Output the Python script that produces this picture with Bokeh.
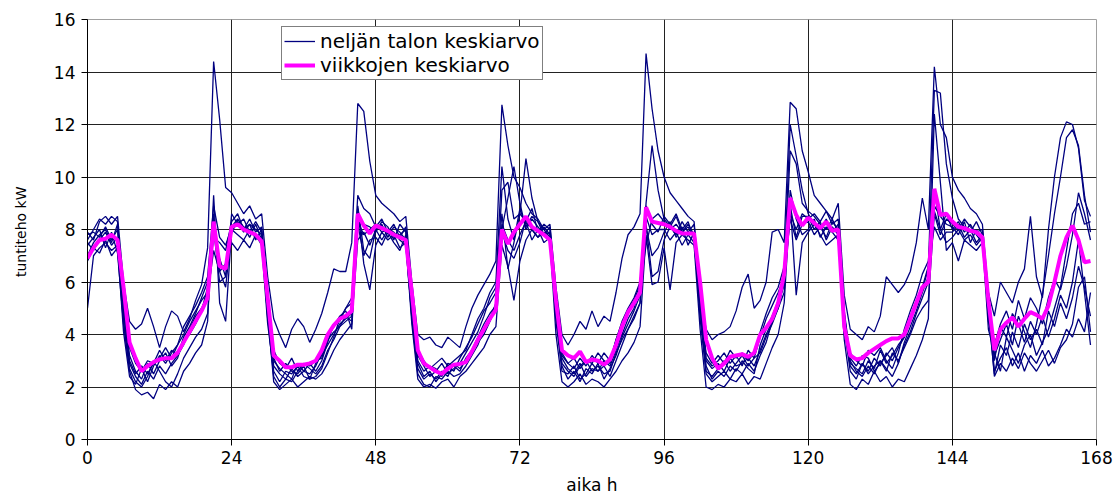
from bokeh.plotting import figure
from bokeh.models import Range1d, FixedTicker, Legend, LegendItem
from bokeh.embed import file_html
from bokeh.resources import INLINE

hours = list(range(168))
x_ticks = [0, 24, 48, 72, 96, 120, 144, 168]
y_ticks = [0, 2, 4, 6, 8, 10, 12, 14, 16]

week1 = [7.9, 7.6, 8.3, 8.5, 8.2, 8.5, 6.0, 4.5, 4.2, 4.4, 5.0, 4.3, 3.5, 4.3, 4.9, 4.7, 4.1, 4.6, 5.3, 5.9, 7.3, 14.4, 12.2, 9.6,
         9.4, 9.0, 8.6, 8.9, 8.4, 8.6, 6.2, 4.6, 4.0, 3.5, 4.2, 4.6, 4.3, 3.7, 4.2, 4.8, 5.6, 6.5, 6.4, 6.4, 7.5, 12.8, 12.5, 10.6,
         9.3, 9.0, 8.8, 8.6, 8.3, 8.5, 6.0, 4.0, 3.8, 3.9, 3.6, 3.5, 3.9, 3.7, 3.5, 4.3, 5.0, 5.5, 5.9, 6.3, 6.8, 12.75, 11.2, 10.0,
         9.6, 9.0, 8.6, 8.4, 8.0, 8.2, 5.8, 4.0, 3.6, 4.0, 4.5, 4.2, 4.9, 4.3, 4.7, 4.5, 5.6, 6.9, 7.8, 8.1, 8.6, 14.7, 12.6, 11.0,
         10.0, 9.4, 9.1, 8.8, 8.5, 8.3, 5.6, 4.2, 3.8, 4.0, 4.1, 4.3, 4.9, 5.8, 6.3, 5.0, 5.3, 6.0, 7.9, 8.0, 7.5, 12.85, 12.6, 11.0,
         10.2, 9.3, 9.0, 8.7, 8.4, 9.0, 5.5, 4.2, 4.0, 3.8, 4.3, 4.1, 4.7, 6.2, 5.9, 5.6, 5.9, 6.4, 7.5, 9.2, 8.0, 14.2, 12.0, 11.5,
         10.0, 9.5, 9.2, 8.8, 8.6, 8.2, 5.6, 4.7, 6.0, 5.6, 5.2, 6.0, 6.5, 8.5, 6.2, 5.4, 8.0, 10.0, 11.5, 12.1, 12.0, 11.1, 9.1, 8.5]
week2 = [5.0, 7.0, 7.3, 7.5, 7.2, 7.4, 4.5, 2.6, 1.9, 1.7, 1.8, 1.55, 2.1, 1.9, 2.2, 2.0, 2.6, 2.9, 3.3, 3.6, 4.5, 9.3, 5.2, 4.5,
         8.0, 7.8, 7.6, 8.0, 7.7, 7.5, 4.8, 2.2, 1.9, 2.1, 2.3, 2.0, 2.2, 2.4, 2.3, 2.5, 2.9, 3.4, 3.8, 4.1, 4.4, 8.8, 6.7, 5.7,
         7.4, 7.9, 7.6, 7.8, 7.3, 7.5, 4.4, 2.3, 2.0, 2.1, 1.95, 2.2, 2.3, 2.0, 2.4, 2.6, 2.9, 3.2, 3.5, 4.0, 4.3, 7.4, 6.6, 5.3,
         6.8, 7.6, 8.0, 7.7, 7.9, 7.6, 4.0, 2.2, 2.0, 2.2, 2.5, 2.1, 2.3, 2.2, 2.0, 2.3, 2.6, 3.0, 3.3, 3.7, 4.3, 7.8, 5.9, 6.0,
         7.3, 5.7, 7.5, 7.8, 7.6, 7.4, 4.2, 2.0, 1.9, 2.1, 2.0, 2.3, 2.2, 2.5, 2.1, 2.4, 2.3, 2.9, 3.5, 4.0, 5.2, 9.0, 5.5, 7.5,
         7.9, 8.2, 7.8, 7.4, 7.6, 7.8, 3.8, 2.1, 1.9, 2.3, 2.1, 2.6, 2.2, 2.4, 2.0, 2.3, 2.2, 2.7, 3.2, 3.8, 4.6, 12.4, 9.8, 7.2,
         7.5, 6.8, 7.6, 7.4, 7.2, 7.5, 5.0, 2.4, 2.9, 2.6, 3.1, 2.7, 3.3, 2.9, 2.6, 3.0, 3.4, 2.9, 3.5, 3.8, 4.4, 5.8, 6.2, 4.1]
week3 = [7.6, 8.0, 8.4, 8.2, 8.5, 8.3, 4.8, 2.9, 2.4, 2.1, 2.6, 2.3, 2.8, 2.5, 2.9, 3.2, 3.6, 4.2, 4.7, 5.0, 5.5, 7.2, 6.4, 5.8,
         7.9, 8.3, 7.9, 8.2, 8.0, 7.8, 5.0, 2.8, 2.5, 2.3, 2.7, 2.4, 2.6, 2.5, 2.8, 3.3, 3.9, 4.3, 4.7, 4.9, 4.2, 8.3, 7.8, 8.0,
         8.2, 7.9, 8.0, 7.7, 7.8, 8.0, 5.2, 2.9, 2.4, 2.6, 2.2, 2.5, 2.8, 2.6, 3.1, 3.5, 3.9, 4.4, 4.9, 5.2, 5.6, 8.0, 9.2, 10.4,
         9.0, 8.0, 8.4, 8.1, 7.8, 7.9, 5.0, 3.1, 2.7, 2.5, 2.9, 2.4, 2.7, 2.6, 3.0, 2.8, 3.4, 4.0, 4.6, 5.0, 5.8, 7.4, 8.4, 8.6,
         8.3, 8.0, 8.2, 7.9, 8.1, 7.7, 5.2, 2.8, 2.3, 2.6, 2.4, 2.8, 2.6, 3.0, 2.7, 2.5, 3.6, 4.2, 4.7, 5.3, 6.4, 12.0, 10.8, 9.5,
         8.6, 8.2, 8.0, 8.4, 7.9, 8.2, 4.4, 2.8, 2.5, 2.9, 2.6, 3.1, 2.8, 3.3, 3.0, 3.5, 3.9, 4.5, 5.1, 5.7, 6.5, 13.3, 13.2, 10.5,
         9.2, 8.4, 8.1, 7.9, 8.3, 7.8, 4.6, 3.2, 3.8, 4.4, 3.6, 4.7, 4.1, 3.5, 4.4, 5.5, 7.0, 8.6, 10.0, 11.5, 11.8, 11.2, 9.3, 7.9]
week4 = [6.8, 7.3, 7.1, 7.6, 7.0, 7.3, 4.1, 2.4, 2.1, 2.7, 2.2, 2.8, 3.2, 2.9, 3.3, 3.6, 4.0, 4.5, 4.9, 5.3, 5.6, 8.6, 6.4, 6.7,
         7.5, 7.2, 7.6, 7.3, 7.8, 7.4, 4.4, 2.6, 2.2, 2.6, 2.5, 2.8, 2.4, 2.3, 2.9, 3.2, 3.6, 4.0, 4.4, 4.6, 4.8, 8.2, 7.0, 7.6,
         7.7, 7.4, 7.9, 7.5, 7.2, 7.8, 5.0, 2.7, 2.3, 2.5, 2.3, 2.6, 2.4, 2.9, 2.7, 3.0, 3.3, 3.7, 4.0, 4.5, 5.0, 8.2, 7.6, 7.2,
         7.8, 8.3, 7.6, 8.0, 7.5, 7.7, 4.5, 2.6, 2.5, 2.8, 2.3, 2.5, 2.9, 2.6, 2.8, 2.4, 3.0, 3.6, 4.2, 4.7, 5.2, 8.5, 7.8, 8.0,
         8.0, 7.6, 7.9, 7.4, 7.8, 7.5, 5.0, 2.6, 2.4, 2.7, 3.0, 2.6, 2.9, 3.2, 2.8, 3.1, 3.3, 3.9, 4.4, 5.0, 5.6, 9.5, 8.4, 7.8,
         8.0, 8.4, 7.7, 8.1, 7.9, 7.6, 4.2, 2.6, 2.3, 2.9, 2.5, 2.8, 3.0, 2.6, 3.3, 3.0, 3.5, 4.0, 4.6, 5.0, 5.3, 8.6, 7.8, 8.4,
         8.2, 8.0, 7.6, 7.8, 7.4, 7.7, 4.8, 2.5, 3.6, 3.2, 4.1, 3.5, 4.4, 3.8, 4.2, 3.6, 4.9, 4.3, 5.2, 4.6, 5.4, 6.6, 5.8, 4.7]
week5 = [7.4, 7.7, 8.0, 7.3, 7.9, 7.1, 4.4, 2.7, 2.2, 2.0, 2.4, 3.0, 2.6, 2.2, 2.0, 2.5, 3.1, 3.5, 3.9, 4.2, 4.8, 8.0, 6.0, 6.2,
         8.1, 8.4, 8.1, 7.7, 8.2, 7.6, 4.7, 2.4, 2.0, 2.3, 2.2, 2.6, 2.9, 2.7, 2.5, 2.8, 3.4, 3.8, 4.3, 4.7, 4.5, 7.6, 7.9, 7.4,
         8.0, 8.2, 7.7, 8.1, 7.9, 7.6, 4.6, 2.5, 2.1, 2.0, 2.4, 2.3, 2.6, 2.4, 2.5, 2.8, 3.2, 3.6, 4.2, 4.6, 5.2, 9.5, 9.8, 8.4,
         8.6, 8.3, 8.8, 7.9, 8.2, 8.0, 4.8, 2.8, 2.3, 2.6, 2.2, 2.7, 2.5, 2.9, 2.3, 2.7, 3.2, 3.9, 4.4, 4.9, 5.5, 9.0, 11.2, 9.5,
         8.4, 8.1, 8.5, 7.9, 8.2, 7.8, 4.6, 2.5, 2.2, 2.4, 2.6, 2.3, 2.7, 2.5, 2.9, 2.6, 3.2, 3.7, 4.5, 5.0, 6.0, 11.0, 10.5, 9.0,
         8.7, 8.5, 8.2, 8.0, 8.4, 7.9, 4.8, 3.0, 2.6, 2.4, 2.8, 2.5, 3.0, 2.7, 2.4, 2.9, 3.6, 4.1, 4.8, 5.4, 6.0, 8.9, 8.5, 8.2,
         8.1, 7.8, 8.3, 7.5, 8.0, 7.6, 4.2, 3.3, 2.6, 3.9, 3.4, 2.9, 3.6, 4.0, 3.2, 3.7, 4.2, 5.0, 5.8, 7.2, 8.6, 9.0, 8.2, 8.3]
week6 = [7.0, 7.5, 7.8, 8.0, 7.5, 8.2, 5.2, 3.2, 2.6, 2.3, 2.9, 2.5, 3.0, 3.3, 2.8, 3.1, 3.8, 4.0, 4.4, 4.9, 5.8, 7.7, 7.5, 7.2,
         8.3, 8.6, 8.0, 8.4, 7.9, 8.1, 5.3, 3.0, 2.7, 2.5, 2.3, 2.9, 2.6, 2.9, 2.6, 3.0, 3.7, 4.4, 4.5, 5.0, 5.2, 8.5, 8.2, 8.1,
         7.9, 8.3, 8.1, 7.6, 8.2, 7.9, 4.8, 3.2, 2.8, 2.4, 2.6, 2.9, 2.5, 2.7, 2.9, 3.3, 3.7, 4.1, 4.7, 5.4, 5.8, 8.6, 6.5, 7.5,
         8.6, 10.7, 9.2, 8.3, 7.8, 8.1, 5.3, 3.3, 2.9, 2.7, 3.1, 2.8, 3.2, 2.9, 3.3, 3.0, 3.8, 4.5, 5.0, 5.4, 6.0, 8.2, 6.2, 6.4,
         7.6, 8.1, 7.8, 8.3, 7.9, 8.2, 5.6, 3.1, 2.8, 3.0, 3.3, 2.9, 3.2, 2.8, 3.4, 3.1, 3.9, 4.6, 5.1, 5.6, 6.2, 8.4, 7.6, 8.2,
         8.3, 7.8, 8.1, 7.7, 8.3, 8.0, 4.6, 2.9, 2.7, 2.5, 3.0, 2.7, 3.4, 2.9, 3.2, 3.6, 3.9, 4.7, 5.3, 5.8, 6.6, 8.1, 7.6, 7.9,
         7.9, 8.2, 7.7, 8.0, 7.5, 7.8, 5.6, 3.0, 4.3, 3.9, 4.8, 4.4, 3.7, 4.5, 4.0, 4.7, 3.9, 4.6, 5.5, 5.0, 6.0, 7.6, 5.6, 3.6]
week7 = [7.5, 7.2, 7.6, 7.9, 7.4, 7.7, 4.9, 3.0, 2.5, 2.8, 2.5, 2.9, 3.4, 3.0, 3.4, 3.2, 3.9, 4.3, 4.8, 5.4, 6.0, 7.9, 6.9, 6.2,
         8.6, 8.2, 8.4, 7.9, 8.3, 7.9, 4.6, 3.4, 2.9, 2.7, 3.1, 2.6, 2.9, 2.8, 3.0, 3.1, 3.8, 4.1, 4.3, 4.5, 4.7, 8.9, 7.2, 6.9,
         8.0, 7.6, 8.0, 7.9, 7.6, 7.4, 4.7, 3.0, 2.6, 2.8, 2.7, 2.4, 2.9, 2.8, 2.6, 3.1, 3.4, 3.9, 4.4, 4.8, 5.1, 7.9, 7.2, 6.9,
         7.5, 8.4, 8.0, 7.7, 8.1, 7.8, 4.7, 2.9, 2.6, 2.4, 2.8, 3.0, 2.6, 2.8, 2.5, 2.6, 3.3, 3.8, 4.2, 4.6, 5.2, 8.1, 7.0, 7.3,
         7.9, 8.3, 7.7, 8.1, 7.4, 7.9, 4.9, 3.0, 2.7, 2.9, 2.6, 3.1, 2.8, 2.9, 3.1, 2.8, 3.4, 4.0, 4.5, 5.2, 5.9, 8.6, 8.0, 8.6,
         8.4, 8.6, 8.3, 8.7, 8.2, 8.4, 4.9, 3.1, 2.8, 3.2, 3.1, 2.6, 2.9, 3.2, 3.5, 2.9, 3.7, 4.3, 4.9, 5.6, 6.2, 8.7, 8.0, 7.5,
         7.7, 8.0, 8.4, 8.1, 7.9, 8.0, 4.5, 3.6, 4.4, 4.9, 4.2, 5.3, 4.6, 5.4, 5.0, 4.4, 5.4, 6.1, 5.7, 6.6, 7.8, 9.4, 8.6, 7.6]
week8 = [7.8, 7.9, 7.7, 8.1, 7.6, 8.0, 5.0, 3.5, 2.9, 2.6, 3.0, 2.9, 3.1, 3.5, 3.1, 3.6, 4.3, 4.7, 5.1, 5.6, 6.2, 8.9, 7.7, 7.4,
         8.1, 8.3, 8.0, 8.2, 7.6, 8.0, 5.6, 3.1, 2.6, 2.9, 2.6, 2.5, 2.8, 2.3, 2.4, 2.7, 3.3, 3.9, 4.6, 5.0, 5.4, 9.3, 8.8, 8.6,
         8.1, 8.4, 7.9, 8.2, 7.7, 8.1, 5.5, 3.4, 3.0, 2.7, 2.9, 3.1, 2.8, 3.0, 3.2, 3.4, 4.0, 4.6, 5.0, 5.6, 6.0, 10.4, 8.4, 7.6,
         8.8, 8.1, 8.5, 8.3, 8.0, 7.7, 4.9, 3.2, 2.9, 3.1, 2.7, 3.0, 2.9, 3.3, 3.0, 2.9, 3.8, 4.4, 4.9, 5.3, 5.9, 8.9, 8.2, 7.9,
         8.5, 8.2, 8.6, 8.0, 8.3, 7.6, 5.0, 3.3, 2.9, 3.2, 2.9, 3.4, 3.1, 3.3, 3.0, 3.3, 4.1, 4.8, 5.4, 5.8, 6.6, 8.9, 7.7, 8.5,
         8.5, 8.0, 8.3, 7.6, 8.1, 7.8, 4.0, 3.3, 3.0, 2.8, 3.4, 3.2, 3.5, 3.0, 2.7, 3.3, 4.2, 4.9, 5.5, 6.3, 6.8, 9.5, 8.0, 8.6,
         8.0, 8.3, 7.9, 8.2, 7.8, 7.5, 5.3, 2.6, 3.1, 3.5, 2.8, 3.3, 2.6, 3.2, 2.9, 3.4, 2.8, 3.1, 3.6, 4.2, 3.9, 4.6, 4.1, 5.6]

average = [6.9, 7.3, 7.6, 7.65, 7.8, 7.6, 5.8, 3.7, 3.1, 2.6, 2.8, 2.95, 3.05, 3.1, 3.1, 3.3, 3.7, 4.1, 4.5, 4.9, 5.4, 8.3, 6.6, 6.5,
           8.1, 8.2, 8.0, 7.9, 7.8, 7.55, 5.4, 3.2, 3.0, 2.75, 2.75, 2.85, 2.85, 2.9, 3.0, 3.4, 4.0, 4.35, 4.6, 4.7, 4.9, 8.6, 8.15, 7.85,
           8.15, 8.05, 7.95, 7.8, 7.7, 7.6, 5.6, 3.4, 2.9, 2.75, 2.6, 2.5, 2.7, 2.85, 2.88, 2.95, 3.35, 3.8, 4.2, 4.6, 4.95, 8.0, 7.45, 7.9,
           8.2, 8.5, 8.1, 7.95, 7.8, 7.6, 5.3, 3.4, 3.2, 3.1, 3.35, 2.95, 3.05, 3.0, 2.85, 3.05, 3.6, 4.3, 4.85, 5.2, 5.6, 8.85, 8.3, 8.25,
           8.2, 8.1, 7.95, 7.85, 7.85, 7.85, 6.0, 3.8, 3.1, 2.7, 2.9, 3.15, 3.2, 3.25, 3.15, 3.3, 4.0, 4.25, 4.6, 5.2, 6.3, 9.2, 8.55, 8.15,
           8.45, 8.25, 8.05, 8.3, 7.95, 8.0, 4.3, 3.2, 3.05, 3.1, 3.3, 3.45, 3.6, 3.75, 3.85, 3.85, 4.0, 4.6, 5.2, 5.8, 6.0, 9.55, 8.55, 8.6,
           8.3, 8.1, 8.05, 7.95, 7.9, 7.7, 5.3, 3.4, 4.2, 4.45, 4.65, 4.3, 4.6, 4.85, 4.75, 4.6, 5.1, 6.0, 7.0, 7.7, 8.15, 7.6, 6.75, 6.8]

weeks = [week1, week2, week3, week4, week5, week6, week7, week8]

FONT = "DejaVu Sans"

p = figure(width=1120, height=497, x_range=Range1d(0, 168), y_range=Range1d(0, 16),
           output_backend="svg", toolbar_location=None,
           min_border_left=87, min_border_right=24, min_border_top=19, min_border_bottom=58)
p.background_fill_color = "white"
p.border_fill_color = "white"
p.outline_line_color = "#a0a0a0"
p.outline_line_width = 1

p.xaxis.ticker = FixedTicker(ticks=x_ticks)
p.yaxis.ticker = FixedTicker(ticks=y_ticks)
p.xgrid.ticker = FixedTicker(ticks=x_ticks)
p.ygrid.ticker = FixedTicker(ticks=y_ticks)
for g in (p.xgrid, p.ygrid):
    g.grid_line_color = "#222222"
    g.grid_line_width = 1

for ax in (p.xaxis, p.yaxis):
    ax.axis_line_color = "black"
    ax.major_tick_line_color = "black"
    ax.major_tick_out = 6
    ax.major_tick_in = 0
    ax.minor_tick_line_color = None
    ax.major_label_text_font = FONT
    ax.major_label_text_font_size = "17px"
    ax.major_label_text_color = "black"
    ax.axis_label_text_font = FONT
    ax.axis_label_text_font_style = "normal"
    ax.axis_label_text_color = "black"

p.xaxis.axis_label = "aika h"
p.xaxis.axis_label_text_font_size = "17px"
p.xaxis.major_label_standoff = 5
p.xaxis.axis_label_standoff = 8
p.yaxis.axis_label = "tuntiteho  kW"
p.yaxis.axis_label_text_font_size = "14px"
p.yaxis.major_label_standoff = 6
p.yaxis.axis_label_standoff = 22

navy_renderers = []
for w in weeks:
    r = p.line(hours, w, line_color="#000080", line_width=1.3)
    navy_renderers.append(r)
avg_r = p.line(hours, average, line_color="#FF00FF", line_width=4)

legend = Legend(items=[LegendItem(label="neljän talon keskiarvo", renderers=[navy_renderers[0]]),
                       LegendItem(label="viikkojen keskiarvo", renderers=[avg_r])],
                location=(194, 359))
legend.label_text_font = FONT
legend.label_text_font_size = "20px"
legend.label_text_color = "black"
legend.glyph_width = 31
legend.glyph_height = 20
legend.label_height = 20
legend.label_standoff = 5
legend.padding = 2
legend.spacing = 0
legend.margin = 0
legend.border_line_color = "black"
legend.border_line_width = 1
legend.background_fill_color = "white"
legend.background_fill_alpha = 1.0
p.add_layout(legend)

open("out.html", "w").write(file_html(p, INLINE))
